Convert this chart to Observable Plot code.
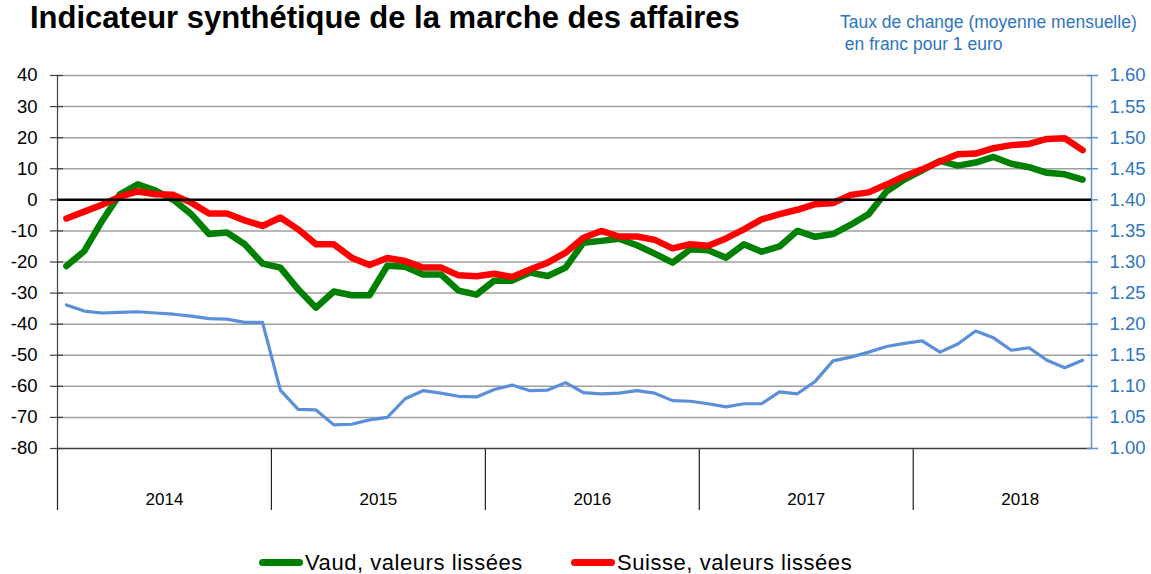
<!DOCTYPE html>
<html><head><meta charset="utf-8">
<script src="https://cdn.jsdelivr.net/npm/d3@7"></script>
<script src="https://cdn.jsdelivr.net/npm/@observablehq/plot@0.6"></script>
<style>
body{margin:0;background:#fff;}
#wrap{position:relative;width:1151px;height:574px;overflow:hidden;font-family:"Liberation Sans",Arial,sans-serif;color:#000;}
#chart{position:absolute;left:0;top:0;}
.title{position:absolute;left:30px;top:1px;font-size:31px;line-height:34px;font-weight:bold;white-space:nowrap;}
.sub{position:absolute;left:840px;top:11px;font-size:17.5px;line-height:22px;color:#2d74c0;white-space:nowrap;}
.legend{position:absolute;top:552px;height:21px;font-size:22px;line-height:21px;letter-spacing:0.55px;white-space:nowrap;display:flex;align-items:center;}
.sw{display:inline-block;width:44px;height:7px;border-radius:3.5px;margin-right:2px;}
</style></head>
<body><div id="wrap">
<div id="chart"></div>
<div class="title">Indicateur synthétique de la marche des affaires</div>
<div class="sub">Taux de change (moyenne mensuelle)<br>&nbsp;en franc pour 1 euro</div>
<div class="legend" style="left:259px"><span class="sw" style="background:#008000"></span>Vaud, valeurs lissées</div>
<div class="legend" style="left:571px"><span class="sw" style="background:#ff0000"></span>Suisse, valeurs lissées</div>
</div>
<script>
// Monthly values, Jan 2014 – Oct 2018
const years = ["2014", "2015", "2016", "2017", "2018"];
const vaud = [-21.3, -16.5, -6.8, 1.8, 5.0, 3.0, 0.0, -4.6, -11.0, -10.5, -14.3, -20.5,
  -21.8, -28.8, -34.7, -29.5, -30.7, -30.7, -21.2, -21.5, -24.0, -24.0, -29.2, -30.5,
  -26.0, -26.0, -23.4, -24.5, -21.8, -13.8, -13.2, -12.5, -14.6, -17.3, -20.2, -15.9,
  -16.2, -18.6, -14.3, -16.7, -15.0, -10.0, -11.9, -11.0, -8.0, -4.6, 2.7, 6.5,
  9.5, 12.5, 11.0, 12.0, 13.8, 11.6, 10.5, 8.7, 8.2, 6.5];
const suisse = [-6.0, -3.8, -1.6, 1.0, 2.7, 1.8, 1.6, -0.9, -4.4, -4.4, -6.6, -8.4,
  -5.7, -9.5, -14.3, -14.3, -18.6, -21.0, -18.7, -19.7, -21.8, -21.8, -24.3, -24.6,
  -23.8, -24.8, -22.4, -20.2, -17.0, -12.2, -10.0, -11.8, -11.8, -12.9, -15.6, -14.3,
  -14.8, -12.4, -9.5, -6.3, -4.6, -3.2, -1.4, -1.0, 1.6, 2.4, 4.9, 7.6,
  9.8, 12.3, 14.7, 14.9, 16.6, 17.6, 18.0, 19.6, 19.8, 16.0];
const rate = [1.231, 1.221, 1.218, 1.219, 1.220, 1.218, 1.216, 1.213, 1.209, 1.208, 1.203, 1.203,
  1.094, 1.063, 1.062, 1.038, 1.039, 1.046, 1.050, 1.080, 1.093, 1.089, 1.084, 1.083,
  1.095, 1.102, 1.093, 1.094, 1.106, 1.090, 1.088, 1.089, 1.093, 1.089, 1.077, 1.076,
  1.072, 1.067, 1.072, 1.072, 1.091, 1.088, 1.108, 1.141, 1.147, 1.155, 1.164, 1.169,
  1.173, 1.155, 1.168, 1.189, 1.178, 1.158, 1.162, 1.142, 1.130, 1.142];
const leftTicks = [-80, -70, -60, -50, -40, -30, -20, -10, 0, 10, 20, 30, 40];
const rightLabels = ["1.00", "1.05", "1.10", "1.15", "1.20", "1.25", "1.30", "1.35", "1.40", "1.45", "1.50", "1.55", "1.60"];

const blue = "#5b8fd9";
const blueText = "#2d74c0";
const font = '"Liberation Sans",Arial,sans-serif';
const data = vaud.map((v, i) => ({i, vaud: v, suisse: suisse[i], rate: rate[i]}));
// secondary scale 1.00..1.60 mapped onto primary -80..40
const toLeft = r => -80 + (r - 1) * 200;
const yearBounds = years.map((y, k) => k * 12 - 0.5);
const yearCenters = years.map((y, k) => k * 12 + 5.5);
const grid = leftTicks.filter(v => v !== 0 && v !== -80);

const chart = Plot.plot({
  width: 1151, height: 574,
  marginTop: 75, marginBottom: 126, marginLeft: 57, marginRight: 60,
  x: {domain: [-0.5, 57.5]},
  y: {domain: [-80, 40]},
  style: {fontFamily: font, background: "transparent", color: "#000"},
  marks: [
    Plot.ruleY(grid, {stroke: "#a0a0a0", strokeWidth: 1.5}),
    Plot.axisX({ticks: yearBounds, tickSize: 62, tickFormat: () => "", label: null, stroke: "#222", strokeWidth: 1.2, strokeOpacity: 1}),
    Plot.axisX({ticks: yearCenters, tickSize: 0, tickPadding: 44, fontSize: 17, label: null,
      tickFormat: d => years[yearCenters.indexOf(d)]}),
    Plot.ruleY([-80], {stroke: "#404040", strokeWidth: 1.5}),
    Plot.ruleX([-0.5], {stroke: "#404040", strokeWidth: 1.2}),
    Plot.ruleX([57.5], {stroke: blue, strokeWidth: 1.5}),
    // left axis: crossing ticks, then labels
    Plot.axisY({ticks: leftTicks, tickSize: 13, dx: 6, label: null, tickFormat: () => "",
      stroke: "#404040", strokeWidth: 1.2, strokeOpacity: 1}),
    Plot.axisY({ticks: leftTicks, tickSize: 0, tickPadding: 20, fontSize: 18.5, label: null,
      tickFormat: d => String(d)}),
    // right axis (exchange rate)
    Plot.axisY({anchor: "right", ticks: leftTicks, tickSize: 11, dx: -5, label: null, tickFormat: () => "",
      stroke: blue, strokeWidth: 1.5, strokeOpacity: 1}),
    Plot.axisY({anchor: "right", ticks: leftTicks, tickSize: 0, tickPadding: 18, fontSize: 18.5, label: null,
      fill: blueText, tickFormat: d => rightLabels[leftTicks.indexOf(d)]}),
    Plot.line(data, {x: "i", y: d => toLeft(d.rate), stroke: blue, strokeWidth: 3.2, strokeLinejoin: "round"}),
    Plot.line(data, {x: "i", y: "vaud", stroke: "#008000", strokeWidth: 6.5, strokeLinejoin: "round", strokeLinecap: "round"}),
    Plot.line(data, {x: "i", y: "suisse", stroke: "#ff0000", strokeWidth: 6.5, strokeLinejoin: "round", strokeLinecap: "round"}),
    Plot.ruleY([0], {stroke: "#000", strokeWidth: 2.5})
  ]
});
document.getElementById("chart").appendChild(chart);
</script>
</body></html>
